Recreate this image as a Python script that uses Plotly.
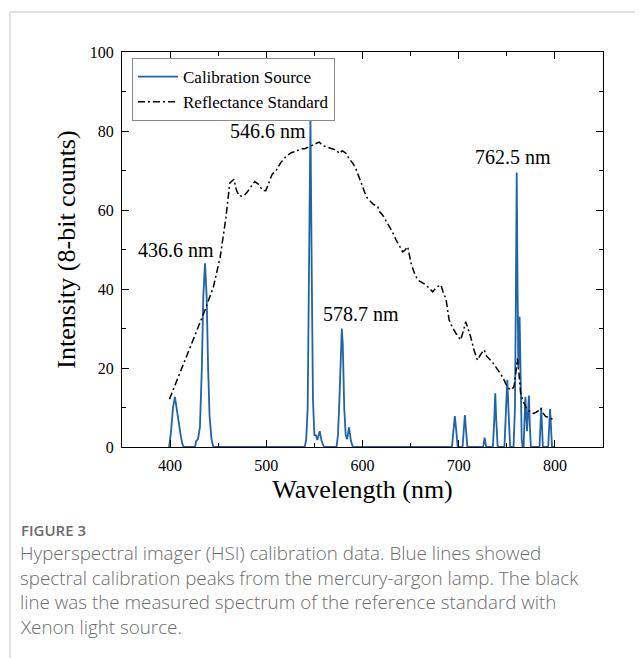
import plotly.graph_objects as go

# ---- Calibration source (blue) ----
cal_wl = [398, 399, 401, 403, 405, 407, 409, 411, 412.5, 414,
          426, 427, 429, 431, 433, 434.5, 436.3, 438, 439.5, 441, 443, 445,
          540, 541.5, 543, 544.5, 545.9, 547.2, 548.5, 550, 551.5, 553, 555.5, 557.5, 560,
          573, 574.5, 576, 577.5, 578.5, 579.5, 581, 582.5, 584, 586, 588, 590,
          693, 694.5, 696, 697.5, 699,
          704, 705.2, 706.4, 707.7, 709,
          725.5, 727, 728.5,
          735.5, 737, 738, 739, 740.5,
          747.5, 749, 750.5, 752, 753.5,
          757, 758.5, 759.5, 760.3, 761.2, 762, 763.3, 764.5, 765.5, 766.5,
          767.5, 768.3, 769.3, 771, 773, 774, 775,
          784, 785.8, 787.5,
          793, 795, 797, 800]
cal_int = [0, 0, 4, 10, 12.7, 9, 6, 3, 1, 0,
           0, 1.5, 2, 5, 20, 38, 46.5, 38, 20, 8, 2, 0,
           0, 2, 10, 45, 83, 45, 12, 3, 3, 1.8, 4, 1.5, 0,
           0, 3, 12, 27, 30, 26, 10, 3, 2, 5, 1.5, 0,
           0, 4, 7.8, 4, 0,
           0, 4, 8.1, 4, 0,
           0, 2.4, 0,
           0, 7, 13.6, 7, 0,
           0, 8, 17, 8, 0,
           0, 10, 40, 69.5, 40, 20, 33, 15, 2, 0,
           0, 6, 12.7, 4, 13, 5, 0,
           0, 10, 0,
           0, 9.6, 0, 0]

# ---- Reflectance standard (black dash-dot) ----
ref_wl = [399.3, 405, 415, 425, 431, 436, 445, 452, 458, 462, 466.3, 469, 472, 476.7,
          480, 484, 488, 492, 496, 499.5, 503, 506, 510.5, 515, 521, 526, 531.3,
          536, 540, 545, 548, 552, 555, 558.8, 562, 566, 570, 572.7, 576, 579, 583,
          586, 590, 593, 597, 600, 602, 605, 607, 611, 615.8, 618, 621, 624, 628,
          631, 635, 638, 641.8, 644, 647, 650.5, 654, 657.4, 661, 666, 670, 673,
          677, 681.6, 684, 686.8, 690, 693, 697, 702, 705, 707.3, 709, 712.4, 716,
          719.5, 723, 726.4, 729, 731.6, 735, 738.5, 742, 745.4, 749, 752.3, 755,
          757.5, 759.5, 761, 762.5, 764.4, 767, 771.3, 775, 778.2, 782, 785.2, 788,
          790.4, 794, 797, 799]
ref_int = [12.1, 15.5, 21.5, 27.5, 31.4, 34.5, 40.5, 48, 58, 66.8, 67.8, 65, 63.5, 63.6,
           64.5, 66, 67.2, 66.5, 65, 64.9, 67, 69, 70.1, 72, 73.7, 74.5, 74.9,
           75.5, 75.5, 76, 76.5, 76.9, 77.2, 76.3, 76, 75.6, 75.4, 75.2, 74.3, 75, 74.3,
           73, 71.8, 70.5, 67.6, 66, 64.6, 63, 62.5, 61.5, 60.8, 59.5, 58.7, 57.5, 55.8,
           54.5, 52.4, 51, 49.4, 49.8, 50.7, 46.5, 44, 42.3, 41.8, 41, 40, 39.3,
           40.5, 41, 39, 37.5, 32.2, 30.5, 28.8, 27.1, 29.5, 31.7, 30.5, 27.9, 24.5,
           22, 23.5, 24.6, 23, 22.4, 21.5, 20.3, 19, 17.8, 16, 14.8, 14.5,
           15.3, 19, 22.4, 19, 13.6, 11.5, 9.4, 8.8, 8.5, 9, 9.8, 8.5,
           7.7, 7.5, 7, 6.8]

peak_labels = ["436.6 nm", "546.6 nm", "578.7 nm", "762.5 nm"]
peak_label_x = [406, 501.5, 598, 756.5]
peak_label_y = [50, 80, 33.7, 73.4]

x_ticks = [400, 500, 600, 700, 800]
y_ticks = [0, 20, 40, 60, 80, 100]

caption_head = "FIGURE 3"
caption_lines = [
    "Hyperspectral imager (HSI) calibration data. Blue lines showed",
    "spectral calibration peaks from the mercury-argon lamp. The black",
    "line was the measured spectrum of the reference standard with",
    "Xenon light source.",
]

SERIF = "Liberation Serif, Times New Roman, serif"

fig = go.Figure()
fig.add_trace(go.Scatter(x=cal_wl, y=cal_int, mode="lines", name="Calibration Source",
                         line=dict(color="#1f63a8", width=1.8)))
fig.add_trace(go.Scatter(x=ref_wl, y=ref_int, mode="lines", name="Reflectance Standard",
                         line=dict(color="black", width=1.5, dash="7px,3px,2px,3px")))

# page has an 8px body margin; figure occupies page (8..643, 8..658)
OFF = 8
W, H = 643 - OFF, 658 - OFF
PL, PR, PT, PB = 122, 603, 52, 447  # plot area in page pixels
L, T = PL - OFF, PT - OFF
R = W - (PR - OFF)
B = H - (PB - OFF)
pw, ph = PR - PL, PB - PT

def px(p):
    return (p - PL) / pw

def py(q):
    return (PB - q) / ph

for txt, xv, yv in zip(peak_labels, peak_label_x, peak_label_y):
    fig.add_annotation(x=xv, y=yv, text=txt, showarrow=False, xref="x", yref="y",
                       font=dict(family=SERIF, size=20, color="black"))

fig.add_annotation(x=px(19), y=py(530), xref="paper", yref="paper", text=caption_head,
                   showarrow=False, xanchor="left", yanchor="middle",
                   font=dict(family="Open Sans", size=15, color="#6b6b6b", weight=600))
for i, line in enumerate(caption_lines):
    fig.add_annotation(x=px(18), y=py(553 + 24.7 * i), xref="paper", yref="paper", text=line,
                       showarrow=False, xanchor="left", yanchor="middle",
                       font=dict(family="Open Sans", size=18.8, color="#6b6b6b", weight=300))

# outer frame (top and left gray border)
fig.add_shape(type="line", xref="paper", yref="paper", x0=px(10), x1=px(660), y0=py(12), y1=py(12),
              line=dict(color="#c0c0c0", width=1))
fig.add_shape(type="line", xref="paper", yref="paper", x0=px(10), x1=px(10), y0=py(12), y1=py(670),
              line=dict(color="#c0c0c0", width=1))

axis_common = dict(showline=True, linecolor="black", linewidth=1.3, mirror="ticks",
                   ticks="inside", ticklen=7, tickwidth=1.2, tickcolor="black",
                   showgrid=False, zeroline=False,
                   tickfont=dict(family=SERIF, size=16, color="black"))

fig.update_xaxes(range=[350, 850], tickvals=x_ticks,
                 minor=dict(dtick=50, tick0=350, ticks="inside", ticklen=4, tickcolor="black", tickwidth=1.2),
                 title=dict(text="Wavelength (nm)", font=dict(family=SERIF, size=26, color="black"), standoff=6),
                 ticklabelstandoff=4, **axis_common)
fig.update_yaxes(range=[0, 100], tickvals=y_ticks,
                 minor=dict(dtick=10, tick0=0, ticks="inside", ticklen=4, tickcolor="black", tickwidth=1.2),
                 title=dict(text="Intensity (8-bit counts)", font=dict(family=SERIF, size=26, color="black"), standoff=6),
                 ticklabelstandoff=4, **axis_common)

fig.update_layout(
    width=W, height=H,
    margin=dict(l=L, r=R, t=T, b=B),
    paper_bgcolor="white", plot_bgcolor="white",
    showlegend=True,
    legend=dict(x=px(132), y=py(58), xanchor="left", yanchor="top",
                bgcolor="white", bordercolor="#8a8a8a", borderwidth=1,
                font=dict(family=SERIF, size=17, color="black"),
                tracegroupgap=0, itemwidth=40),
)

fig.write_html("out.html")
